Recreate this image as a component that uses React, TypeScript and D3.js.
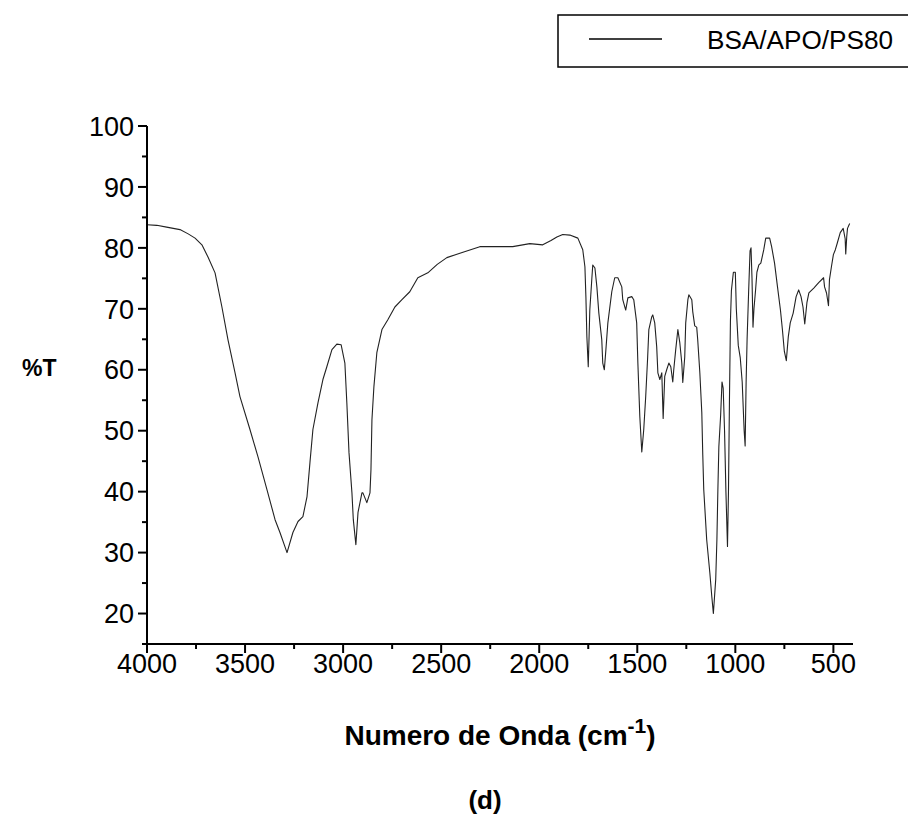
import React from "react";
import * as d3 from "d3";

const wavenumbers: number[] = [4000, 3950, 3900, 3832, 3790, 3755, 3720, 3689, 3653, 3618, 3587, 3551, 3526, 3475, 3434, 3388, 3347, 3322, 3286, 3256, 3230, 3205, 3184, 3169, 3154, 3128, 3103, 3083, 3057, 3032, 3010, 2991, 2981, 2970, 2955, 2948, 2935, 2924, 2904, 2899, 2879, 2863, 2858, 2853, 2843, 2828, 2802, 2772, 2736, 2700, 2660, 2619, 2568, 2520, 2471, 2389, 2303, 2216, 2135, 2048, 1982, 1940, 1910, 1880, 1844, 1803, 1778, 1767, 1762, 1757, 1750, 1742, 1732, 1727, 1716, 1706, 1696, 1681, 1676, 1668, 1660, 1650, 1630, 1615, 1599, 1579, 1574, 1559, 1548, 1528, 1518, 1503, 1497, 1487, 1477, 1467, 1457, 1447, 1441, 1426, 1421, 1411, 1401, 1395, 1385, 1375, 1368, 1360, 1350, 1339, 1329, 1319, 1314, 1304, 1293, 1283, 1273, 1268, 1258, 1253, 1242, 1237, 1222, 1217, 1207, 1197, 1192, 1181, 1171, 1166, 1161, 1146, 1130, 1120, 1112, 1100, 1094, 1089, 1084, 1075, 1068, 1062, 1055, 1048, 1040, 1035, 1030, 1025, 1020, 1010, 1000, 995, 985, 975, 965, 955, 950, 945, 940, 932, 925, 920, 915, 910, 905, 897, 890, 880, 870, 855, 845, 825, 815, 800, 785, 770, 760, 750, 740, 730, 720, 705, 690, 677, 665, 655, 646, 635, 625, 600, 575, 550, 545, 535, 525, 520, 510, 500, 490, 480, 465, 450, 440, 437, 432, 428, 417];

const transmittance: number[] = [83.8, 83.7, 83.4, 83.0, 82.3, 81.6, 80.5, 78.5, 75.9, 70.3, 64.9, 59.5, 55.6, 50.2, 45.7, 40.3, 35.4, 33.3, 30.0, 33.3, 35.1, 35.9, 39.2, 44.8, 50.2, 54.6, 58.4, 60.5, 63.3, 64.2, 64.1, 61.1, 54.6, 46.4, 39.8, 35.4, 31.3, 36.6, 39.8, 39.8, 38.2, 39.8, 43.6, 51.8, 57.2, 62.8, 66.6, 68.2, 70.3, 71.5, 72.8, 75.1, 75.9, 77.3, 78.4, 79.3, 80.2, 80.2, 80.2, 80.7, 80.5, 81.2, 81.8, 82.2, 82.1, 81.6, 79.7, 76.9, 72.0, 65.4, 60.5, 69.8, 74.8, 77.2, 76.7, 73.6, 69.3, 64.9, 61.1, 60.0, 63.3, 67.7, 72.8, 75.1, 75.1, 73.6, 71.5, 69.8, 71.8, 72.0, 71.5, 67.7, 61.1, 52.3, 46.5, 50.2, 55.6, 62.1, 66.6, 68.7, 69.0, 67.7, 63.8, 59.5, 58.4, 59.5, 52.0, 58.9, 60.0, 61.1, 60.5, 58.0, 60.0, 63.3, 66.6, 64.4, 61.1, 57.9, 62.1, 67.7, 71.5, 72.3, 71.5, 69.5, 67.2, 67.0, 65.0, 59.5, 53.0, 46.0, 40.3, 32.1, 26.7, 22.8, 20.0, 25.6, 32.1, 40.3, 47.4, 52.5, 58.0, 57.0, 50.0, 40.0, 31.0, 40.0, 55.0, 68.0, 73.0, 76.0, 76.0, 70.0, 64.0, 62.0, 58.0, 50.0, 47.5, 58.0, 65.0, 73.0, 79.5, 80.0, 75.0, 67.0, 70.0, 73.0, 76.0, 77.2, 77.5, 79.7, 81.6, 81.6, 80.2, 77.5, 73.6, 69.8, 66.6, 63.0, 61.5, 65.4, 67.7, 69.3, 72.0, 73.1, 72.0, 70.3, 67.5, 71.0, 72.6, 73.4, 74.3, 75.1, 73.6, 72.6, 70.5, 74.8, 76.9, 78.9, 79.7, 80.8, 82.5, 83.2, 81.5, 79.0, 81.8, 83.2, 84.0];

const xMajorTicks: number[] = [4000, 3500, 3000, 2500, 2000, 1500, 1000, 500];
const xMinorTicks: number[] = [3750, 3250, 2750, 2250, 1750, 1250, 750];
const yMajorTicks: number[] = [20, 30, 40, 50, 60, 70, 80, 90, 100];
const yMinorTicks: number[] = [15, 25, 35, 45, 55, 65, 75, 85, 95];

const seriesName = "BSA/APO/PS80";
const xTitle = "Numero de Onda (cm";
const yTitle = "%T";
const panelLabel = "(d)";

export default function App() {
  const W = 908;
  const H = 819;
  const x = d3.scaleLinear().domain([4000, 400]).range([147, 853]);
  const y = d3.scaleLinear().domain([15, 100]).range([644, 126]);
  const data = wavenumbers.map((w, i) => [w, transmittance[i]] as [number, number]);
  const line = d3
    .line<[number, number]>()
    .x((d) => x(d[0]))
    .y((d) => y(d[1]));
  const font = "Arial, 'Liberation Sans', Helvetica, sans-serif";
  const x0 = x.range()[0];
  const x1 = x.range()[1];
  const yb = y.range()[0];
  const yt = y.range()[1];

  return (
    <svg
      width={W}
      height={H}
      viewBox={`0 0 ${W} ${H}`}
      style={{ position: "absolute", left: 0, top: 0, background: "#fff" }}
      fontFamily={font}
    >
      <rect x={0} y={0} width={W} height={H} fill="#fff" />
      {/* legend */}
      <rect x={558} y={15} width={360} height={52} fill="none" stroke="#000" strokeWidth={1.5} />
      <line x1={589} x2={662} y1={39} y2={39} stroke="#000" strokeWidth={1.5} />
      <text x={707} y={49} fontSize={26} fill="#000" textLength={186} lengthAdjust="spacingAndGlyphs">
        {seriesName}
      </text>

      {/* spectrum */}
      <path d={line(data) || ""} fill="none" stroke="#222" strokeWidth={1.1} strokeLinejoin="round" />

      {/* axes */}
      <line x1={x0} x2={x0} y1={yt} y2={yb + 9} stroke="#000" strokeWidth={2} />
      <line x1={x0 - 1} x2={x1} y1={yb} y2={yb} stroke="#000" strokeWidth={2} />
      {yMajorTicks.map((t) => (
        <g key={"ym" + t}>
          <line x1={x0 - 9} x2={x0} y1={y(t)} y2={y(t)} stroke="#000" strokeWidth={2} />
          <text x={x0 - 13} y={y(t)} dy="0.36em" textAnchor="end" fontSize={27} fill="#000">
            {t}
          </text>
        </g>
      ))}
      {yMinorTicks.map((t) => (
        <line key={"yn" + t} x1={x0 - 5} x2={x0} y1={y(t)} y2={y(t)} stroke="#000" strokeWidth={2} />
      ))}
      {xMajorTicks.map((t) => (
        <g key={"xm" + t}>
          <line x1={x(t)} x2={x(t)} y1={yb} y2={yb + 9} stroke="#000" strokeWidth={2} />
          <text x={x(t)} y={yb + 29} textAnchor="middle" fontSize={27} fill="#000">
            {t}
          </text>
        </g>
      ))}
      {xMinorTicks.map((t) => (
        <line key={"xn" + t} x1={x(t)} x2={x(t)} y1={yb} y2={yb + 5} stroke="#000" strokeWidth={2} />
      ))}

      {/* titles */}
      <text x={22} y={376} fontSize={23} fontWeight="bold" fill="#000">
        {yTitle}
      </text>
      <text x={500} y={745} textAnchor="middle" fontSize={28} fontWeight="bold" fill="#000">
        {xTitle}
        <tspan dy={-12} fontSize={21}>-1</tspan>
        <tspan dy={12}>)</tspan>
      </text>
      <text x={485} y={809} textAnchor="middle" fontSize={26} fontWeight="bold" fill="#000">
        {panelLabel}
      </text>
    </svg>
  );
}
